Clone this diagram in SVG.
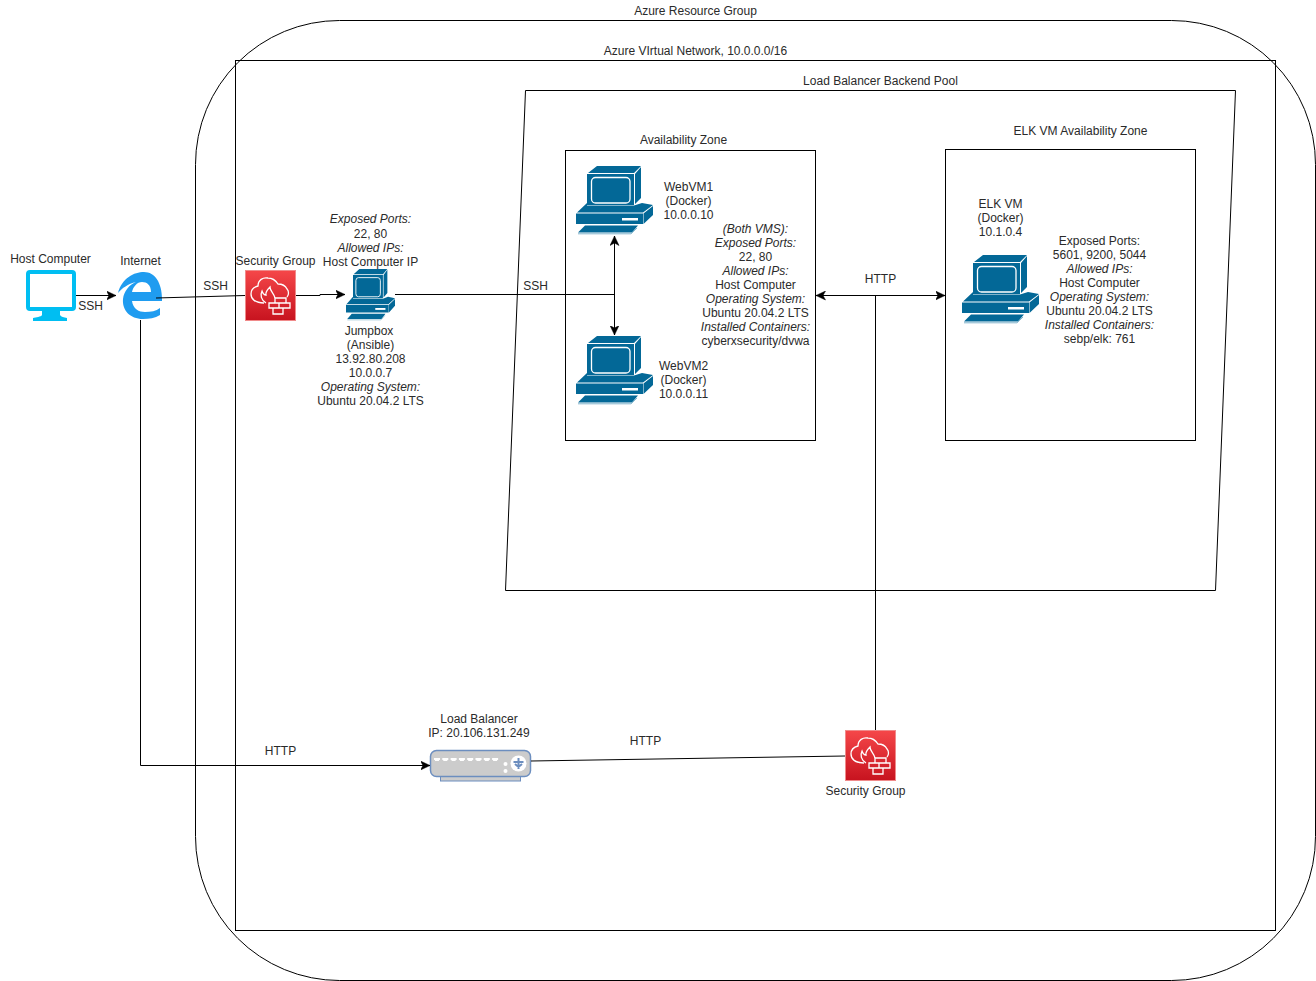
<svg xmlns="http://www.w3.org/2000/svg" xmlns:xlink="http://www.w3.org/1999/xlink" width="1316" height="981" viewBox="0 0 1316 981">
<style>
text{font-family:"Liberation Sans",Arial,sans-serif;font-size:12px;fill:#2a2a2a;text-anchor:middle}
.i{font-style:italic}
.box{fill:none;stroke:#000;stroke-width:1}
.con{fill:none;stroke:#000;stroke-width:1}
.pb{fill:#036897}
.fw{fill:none;stroke:#fff;stroke-width:1.300}
</style>
<defs>
<marker id="a" viewBox="0 0 10 10" refX="9.500" refY="5" markerWidth="10" markerHeight="10" markerUnits="userSpaceOnUse" orient="auto-start-reverse"><path d="M0,0.500 L9.500,5 L0,9.500 L2.500,5 Z" fill="#000" stroke="#000" stroke-width="0.500"/></marker>
<linearGradient id="red" x1="0" y1="0" x2="0" y2="1"><stop offset="0" stop-color="#f54749"/><stop offset="1" stop-color="#c7131f"/></linearGradient>
<g id="pc">
<path class="pb" d="M12,7 L21,0 H65 L58,7Z M59,8 L65,1 V32 L59,38Z M11,8 H58 V39 H11Z"/>
<rect x="15.500" y="11.500" width="38.500" height="25.500" rx="4" fill="#036897" stroke="#fff" stroke-width="1.300"/>
<path class="pb" d="M1,46.500 L11,37 V39.500 H58 L66,37 L77,39 L67,46.500Z M0,47.500 H67 V58 H0Z M67.500,47.500 L77,40 V49 L67.500,58Z"/>
<rect x="46" y="52" width="16" height="2.500" fill="#fff"/>
<path class="pb" d="M9,59.500 H62 L56,66.500 H2Z"/>
<path d="M2,67.800 H55 L61,62" fill="none" stroke="#7fb3cb" stroke-width="1"/>
</g>
<g id="fwi">
<rect x="0.500" y="0.500" width="50" height="50" fill="url(#red)" stroke="#f08a8a" stroke-width="1"/>
<path class="fw" d="M19,33 C10,33 6,29 6,24 C6,20 9,17 13,16 C13,10 18,7 23,8 C28,8 31,11 33,14 C37,14 40,15 42,19 C44,21 44,25 42,27"/>
<path class="fw" d="M21,33 C16,30 15,25 17,21 C18,24 20,25 21,25 C20,22 23,19 25,17 C25,21 29,23 30,28"/>
<path class="fw" d="M30,28 H41 V33 H30Z M24,33 H45 V38 H24Z M34,33 V38 M28,38 H38 V44 H28Z"/>
</g>
</defs>
<rect width="1316" height="981" fill="#fff"/>

<g id="containers">
<rect id="resource-group" class="box" x="195.500" y="20.500" width="1120" height="960" rx="144" ry="144"/>
<rect id="vnet" class="box" x="235.500" y="60.500" width="1040" height="870"/>
<path id="backend-pool" class="box" d="M525.500,90.500 H1235.500 L1215.500,590.500 H505.500Z"/>
<rect id="az" class="box" x="565.500" y="150.500" width="250" height="290"/>
<rect id="elk-az" class="box" x="945.500" y="149.500" width="250" height="291"/>
<text x="695.500" y="15">Azure Resource Group</text>
<text x="695.500" y="55">Azure VIrtual Network, 10.0.0.0/16</text>
<text x="880.500" y="85">Load Balancer Backend Pool</text>
<text x="683.500" y="144">Availability Zone</text>
<text x="1080.500" y="135">ELK VM Availability Zone</text>
</g>

<g id="host-computer">
<rect x="28" y="272" width="46" height="37" rx="2" fill="#fff" stroke="#00bef2" stroke-width="4"/>
<path d="M42,310 H60 V315 C61,317 64,317 67,318 V321 H33 V318 C36,317 41,317 42,315Z" fill="#00bef2"/>
<text x="50.500" y="263">Host Computer</text>
</g>

<g id="internet">
<path fill="#1f9cf0" fill-rule="evenodd" d="M118,293 C122,278 134,272 144,272 C155,272 162,283 162,299 V301 H132 C133,309 139,312 145,312 C151,312 156,311 160,308 V315 C155,318 149,319 143,319 C130,319 122,310 123,299 C124,291 129,285 136,282 C128,284 122,288 118,293Z M132,292 H151 C151,285 147,282 142,282 C137,282 133,287 132,292Z"/>
<text x="140.500" y="265">Internet</text>
</g>

<g id="security-group-1">
<use xlink:href="#fwi" href="#fwi" x="245" y="270"/>
<text x="275.500" y="265">Security Group</text>
</g>

<g id="jumpbox">
<use xlink:href="#pc" href="#pc" transform="translate(346,269) scale(0.6364,0.75)"/>
<text class="i" x="370.500" y="223">Exposed Ports:</text>
<text x="370.500" y="238">22, 80</text>
<text class="i" x="370.500" y="252">Allowed IPs:</text>
<text x="370.500" y="266">Host Computer IP</text>
<text x="369" y="335">Jumpbox</text>
<text x="370.500" y="349">(Ansible)</text>
<text x="370.500" y="363">13.92.80.208</text>
<text x="370.500" y="377">10.0.0.7</text>
<text class="i" x="370.500" y="391">Operating System:</text>
<text x="370.500" y="405">Ubuntu 20.04.2 LTS</text>
</g>

<g id="webvm1">
<use xlink:href="#pc" href="#pc" x="576" y="166"/>
<text x="688.500" y="191">WebVM1</text>
<text x="688.500" y="205">(Docker)</text>
<text x="688.500" y="219">10.0.0.10</text>
</g>

<g id="webvm2">
<use xlink:href="#pc" href="#pc" x="576" y="336"/>
<text x="683.500" y="370">WebVM2</text>
<text x="683.500" y="384">(Docker)</text>
<text x="683.500" y="398">10.0.0.11</text>
</g>

<g id="both-vms-notes">
<text class="i" x="755.500" y="233">(Both VMS):</text>
<text class="i" x="755.500" y="247">Exposed Ports:</text>
<text x="755.500" y="261">22, 80</text>
<text class="i" x="755.500" y="275">Allowed IPs:</text>
<text x="755.500" y="289">Host Computer</text>
<text class="i" x="755.500" y="303">Operating System:</text>
<text x="755.500" y="317">Ubuntu 20.04.2 LTS</text>
<text class="i" x="755.500" y="331">Installed Containers:</text>
<text x="755.500" y="345">cyberxsecurity/dvwa</text>
</g>

<g id="elk-vm">
<use xlink:href="#pc" href="#pc" x="962" y="255"/>
<text x="1000.500" y="208">ELK VM</text>
<text x="1000.500" y="222">(Docker)</text>
<text x="1000.500" y="236">10.1.0.4</text>
<text x="1099.500" y="245">Exposed Ports:</text>
<text x="1099.500" y="259">5601, 9200, 5044</text>
<text class="i" x="1099.500" y="273">Allowed IPs:</text>
<text x="1099.500" y="287">Host Computer</text>
<text class="i" x="1099.500" y="301">Operating System:</text>
<text x="1099.500" y="315">Ubuntu 20.04.2 LTS</text>
<text class="i" x="1099.500" y="329">Installed Containers:</text>
<text x="1099.500" y="343">sebp/elk: 761</text>
</g>

<g id="load-balancer">
<rect x="440.500" y="776" width="80" height="5" fill="#ccc" stroke="#6c8ebf"/>
<rect x="430.500" y="750.500" width="100" height="26" rx="6" fill="#ccc" stroke="#6c8ebf" stroke-width="1.500"/>
<path d="M434,758 h6 v2 h-1 v1 h-4 v-1 h-1Z M442.300,758 h6 v2 h-1 v1 h-4 v-1 h-1Z M450.600,758 h6 v2 h-1 v1 h-4 v-1 h-1Z M458.900,758 h6 v2 h-1 v1 h-4 v-1 h-1Z M467.200,758 h6 v2 h-1 v1 h-4 v-1 h-1Z M475.500,758 h6 v2 h-1 v1 h-4 v-1 h-1Z M483.800,758 h6 v2 h-1 v1 h-4 v-1 h-1Z M492.100,758 h6 v2 h-1 v1 h-4 v-1 h-1Z" fill="#fff"/>
<circle cx="505.500" cy="764" r="2" fill="#fff"/>
<circle cx="505.500" cy="771" r="2" fill="#fff"/>
<circle cx="518.500" cy="763.500" r="8" fill="#fff"/>
<path d="M518.500,758 V769 M513.500,762 H523.500 M515,764 L518.500,767 L522,764" fill="none" stroke="#6c8ebf" stroke-width="2"/>
<text x="479" y="723">Load Balancer</text>
<text x="479" y="737">IP: 20.106.131.249</text>
</g>

<g id="security-group-2">
<use xlink:href="#fwi" href="#fwi" x="845" y="730"/>
<text x="865.500" y="795">Security Group</text>
</g>

<g id="connectors">
<path class="con" marker-end="url(#a)" d="M76,295.500 H116"/>
<path class="con" d="M156,298 L245,295.500"/>
<path class="con" marker-end="url(#a)" d="M296,295.500 H320 V294.500 H345"/>
<path class="con" d="M395,294.500 H615"/>
<path class="con" marker-start="url(#a)" marker-end="url(#a)" d="M614.500,236 V335"/>
<path class="con" marker-end="url(#a)" d="M140.500,320 V765.500 H430"/>
<path class="con" d="M531,761 L845,756"/>
<path class="con" marker-start="url(#a)" marker-end="url(#a)" d="M816,295.500 H945"/>
<path class="con" d="M875.500,730 V295.500"/>
<text x="90.500" y="310">SSH</text>
<text x="215.500" y="290">SSH</text>
<text x="535.500" y="290">SSH</text>
<text x="880.500" y="283">HTTP</text>
<text x="280.500" y="755">HTTP</text>
<text x="645.500" y="745">HTTP</text>
</g>
</svg>
